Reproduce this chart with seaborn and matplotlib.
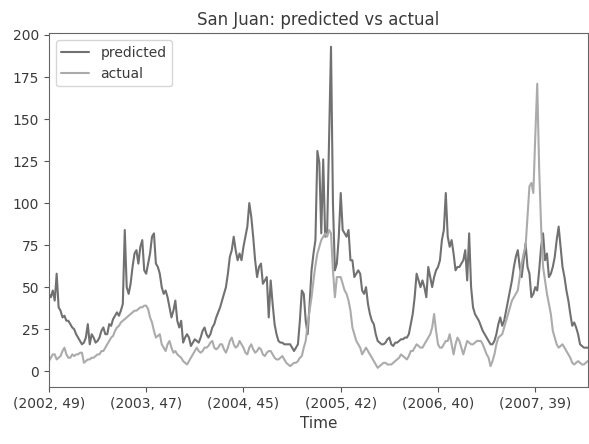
import pandas as pd
import matplotlib
matplotlib.use("Agg")
import matplotlib.pyplot as plt
import seaborn as sns

# weeks per year in the plotted span: (year, first week, last week)
year_spans = [(2002, 49, 52), (2003, 1, 52), (2004, 1, 53), (2005, 1, 52),
              (2006, 1, 51), (2007, 1, 52), (2008, 1, 14)]

# weekly cases
predicted = [
    46, 44, 48, 42, 58, 38, 36, 32, 33, 30,
    30, 28, 26, 25, 22, 20, 18, 16, 17, 20,
    28, 16, 22, 20, 17, 18, 20, 24, 26, 22,
    22, 28, 27, 31, 33, 35, 33, 36, 40, 84,
    50, 46, 52, 62, 70, 72, 64, 74, 78, 60,
    58, 64, 70, 80, 82, 64, 62, 58, 50, 46,
    48, 44, 38, 32, 36, 42, 30, 26, 30, 17,
    20, 22, 20, 15, 17, 19, 18, 17, 20, 24,
    26, 22, 20, 22, 26, 28, 32, 35, 38, 42,
    46, 50, 58, 68, 72, 80, 72, 66, 70, 66,
    74, 80, 86, 100, 92, 80, 66, 56, 62, 64,
    52, 54, 56, 32, 54, 40, 28, 22, 18, 17,
    17, 16, 16, 16, 16, 14, 12, 14, 16, 30,
    48, 46, 30, 22, 40, 60, 70, 78, 131, 124,
    82, 126, 80, 82, 138, 193, 100, 60, 64, 80,
    106, 84, 82, 80, 84, 66, 66, 56, 58, 60,
    58, 48, 46, 50, 40, 34, 30, 28, 22, 18,
    17, 16, 16, 17, 19, 20, 16, 15, 17, 17,
    18, 19, 19, 20, 20, 22, 28, 34, 44, 58,
    54, 50, 54, 50, 44, 62, 56, 50, 56, 60,
    62, 66, 78, 84, 106, 80, 74, 78, 70, 60,
    62, 62, 64, 66, 72, 54, 82, 50, 38, 34,
    32, 30, 27, 24, 22, 20, 18, 16, 16, 18,
    22, 28, 32, 27, 30, 36, 42, 48, 54, 62,
    68, 72, 62, 56, 66, 76, 62, 58, 44, 46,
    50, 48, 60, 74, 82, 66, 70, 56, 58, 62,
    68, 78, 86, 74, 62, 56, 48, 42, 34, 27,
    29, 26, 22, 16, 15, 14, 14, 14,
]
actual = [
    6, 8, 10, 10, 7, 8, 9, 12, 14, 10,
    8, 8, 10, 9, 10, 10, 11, 11, 5, 6,
    7, 7, 8, 8, 9, 10, 10, 12, 12, 14,
    16, 18, 20, 21, 24, 26, 27, 29, 30, 31,
    32, 33, 34, 35, 36, 36, 37, 38, 38, 39,
    39, 37, 32, 29, 24, 20, 21, 22, 16, 14,
    12, 16, 18, 14, 11, 12, 10, 9, 8, 6,
    5, 4, 6, 8, 10, 12, 14, 12, 11, 12,
    14, 14, 15, 17, 18, 14, 13, 14, 16, 16,
    13, 11, 14, 18, 20, 16, 14, 15, 18, 16,
    14, 11, 10, 14, 16, 13, 11, 12, 14, 13,
    10, 9, 11, 12, 12, 10, 8, 7, 7, 8,
    9, 7, 5, 4, 3, 4, 5, 5, 6, 8,
    9, 14, 18, 28, 36, 44, 54, 63, 70, 74,
    78, 80, 82, 80, 84, 82, 60, 44, 56, 56,
    56, 52, 48, 46, 42, 36, 26, 22, 18, 16,
    14, 10, 12, 14, 12, 10, 8, 6, 4, 2,
    3, 4, 5, 5, 4, 4, 4, 5, 6, 7,
    8, 10, 9, 8, 7, 9, 12, 12, 14, 16,
    15, 14, 14, 16, 18, 20, 22, 26, 34, 24,
    16, 14, 14, 16, 18, 18, 22, 16, 10, 16,
    20, 18, 14, 10, 14, 18, 17, 16, 16, 17,
    18, 18, 18, 16, 13, 10, 8, 3, 6, 10,
    16, 20, 21, 22, 26, 30, 34, 38, 42, 44,
    46, 48, 56, 64, 70, 74, 92, 110, 112, 106,
    140, 171, 120, 86, 62, 54, 46, 40, 34, 24,
    20, 16, 14, 15, 16, 14, 12, 10, 8, 5,
    4, 5, 6, 5, 4, 4, 5, 6,
]

# (year, week) index like the original multiindex
index = [(y, w) for y, a, b in year_spans for w in range(a, b + 1)]

df = pd.DataFrame({"predicted": predicted, "actual": actual})

sns.set_style("ticks")
plt.rcParams["font.family"] = ["DejaVu Sans"]
txt = "#3a3a3a"

fig = plt.figure(figsize=(5.89, 4.44), dpi=100)
ax = fig.add_axes([0.083, 0.128, 0.915, 0.797])

sns.lineplot(data=df, palette=["#717171", "#ababab"], dashes=False,
             linewidth=1.5, ax=ax)

ticks = list(range(0, len(df), 50))
ax.set_xticks(ticks)
ax.set_xticklabels([f"({index[t][0]}, {index[t][1]})" for t in ticks])
ax.set_xlim(0, len(df) - 1)
ax.set_ylim(-9.5, 201)
ax.set_yticks(range(0, 201, 25))

ax.set_title("San Juan: predicted vs actual", fontsize=12, color=txt)
ax.set_xlabel("Time", fontsize=11, color=txt)
ax.tick_params(labelsize=10, colors="#555555", labelcolor=txt, direction="out")
for s in ax.spines.values():
    s.set_color("#666666")

leg = ax.legend(loc="upper left", fontsize=10)
for t in leg.get_texts():
    t.set_color(txt)

fig.savefig("out.png", dpi=100)
